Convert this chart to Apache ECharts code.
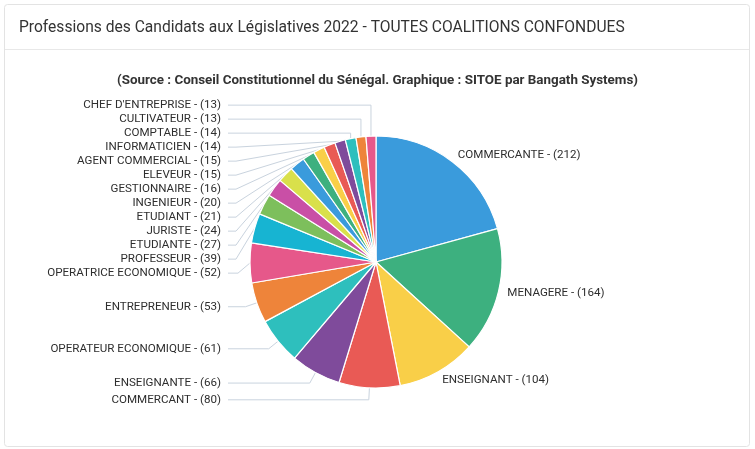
<!DOCTYPE html>
<html>
<head>
<meta charset="utf-8">
<script src="https://cdn.jsdelivr.net/npm/echarts@6/dist/echarts.min.js"></script>
<style>
html,body{margin:0;padding:0;background:#fff;}
#chart{width:755px;height:449px;}
</style>
</head>
<body>
<div id="chart"></div>
<script>
var titleText = "Professions des Candidats aux Législatives 2022 - TOUTES COALITIONS CONFONDUES";
var subtitleText = "(Source : Conseil Constitutionnel du Sénégal. Graphique : SITOE par Bangath Systems)";
var categories = ["COMMERCANTE","MENAGERE","ENSEIGNANT","COMMERCANT","ENSEIGNANTE","OPERATEUR ECONOMIQUE","ENTREPRENEUR","OPERATRICE ECONOMIQUE","PROFESSEUR","ETUDIANTE","JURISTE","ETUDIANT","INGENIEUR","GESTIONNAIRE","ELEVEUR","AGENT COMMERCIAL","INFORMATICIEN","COMPTABLE","CULTIVATEUR","CHEF D'ENTREPRISE"];
var values = [212,164,104,80,66,61,53,52,39,27,24,21,20,16,15,15,14,14,13,13];
var palette = ["#3a9bdc","#3db07f","#f9cf48","#e95a55","#7f4b9b","#2ebfbd","#ee843a","#e6588a","#17b4d2","#7dbf5c","#c94fa6","#d9e04b"];

var pieCenter = [376, 262];
var total = values.reduce(function(a,b){return a+b;},0);
var data = categories.map(function(name,i){
  var before = 0; for (var k=0;k<i;k++) before += values[k];
  var mid = (before + values[i]/2) / total;   // fraction of the turn, clockwise from top
  var item = {name:name, value:values[i]};
  if (mid < 0.5) {
    item.label = {alignTo:'none', distanceToLabelLine:0};
    item.labelLine = {show:false, length:9, length2:0};
  } else if (mid > 0.8) {
    // upper-left crowded slices: longer radial leader
    item.labelLine = {length:31, length2:6};
  }
  return item;
});

var chart = echarts.init(document.getElementById('chart'), null, {renderer:'canvas'});
chart.setOption({
  animation:false,
  color: palette,
  title: [
    {text:titleText, left:14, top:15, textStyle:{fontFamily:'Roboto', fontSize:15.6, fontWeight:'normal', color:'#333'}},
    {text:subtitleText, left:'center', top:69, textStyle:{fontFamily:'Roboto', fontSize:13.4, fontWeight:'bold', color:'#333'}}
  ],
  graphic: [
    {type:'rect', z:-10, shape:{x:4.5,y:4.5,width:745,height:442,r:3}, style:{fill:'#fff', stroke:'#e3e3e3', lineWidth:1}},
    {type:'line', z:-9, shape:{x1:5,y1:49.5,x2:749,y2:49.5}, style:{stroke:'#e8e8e8', lineWidth:1}}
  ],
  series: [{
    type:'pie',
    center:pieCenter,
    radius:[0,126],
    startAngle:90,
    clockwise:true,
    avoidLabelOverlap:true,
    itemStyle:{borderColor:'#fff', borderWidth:1.2},
    label:{
      show:true,
      formatter:function(p){return p.name + ' - (' + p.value + ')';},
      fontFamily:'Roboto',
      fontSize:11.6,
      color:'#2e2e2e',
      lineHeight:12,
      alignTo:'labelLine',
      distanceToLabelLine:7,
      edgeDistance:10
    },
    labelLine:{show:true, length:12, length2:10, lineStyle:{color:'#c9d3de', width:1}},
    labelLayout:function(params){
      var pts = params.labelLinePoints;
      if (!pts || pts.length < 3) return {};
      var p0 = pts[0], p2 = pts[2];
      if (p2[0] >= p0[0] || p0[1] >= pieCenter[1]) return {};
      var ly = p2[1];
      var bend = ly <= p0[1] ? [p0[0], ly] : [p2[0] + 8, ly];
      return {labelLinePoints:[[p0[0],p0[1]], bend, [p2[0],p2[1]]]};
    },
    emphasis:{disabled:true},
    data:data
  }]
});
</script>
</body>
</html>
